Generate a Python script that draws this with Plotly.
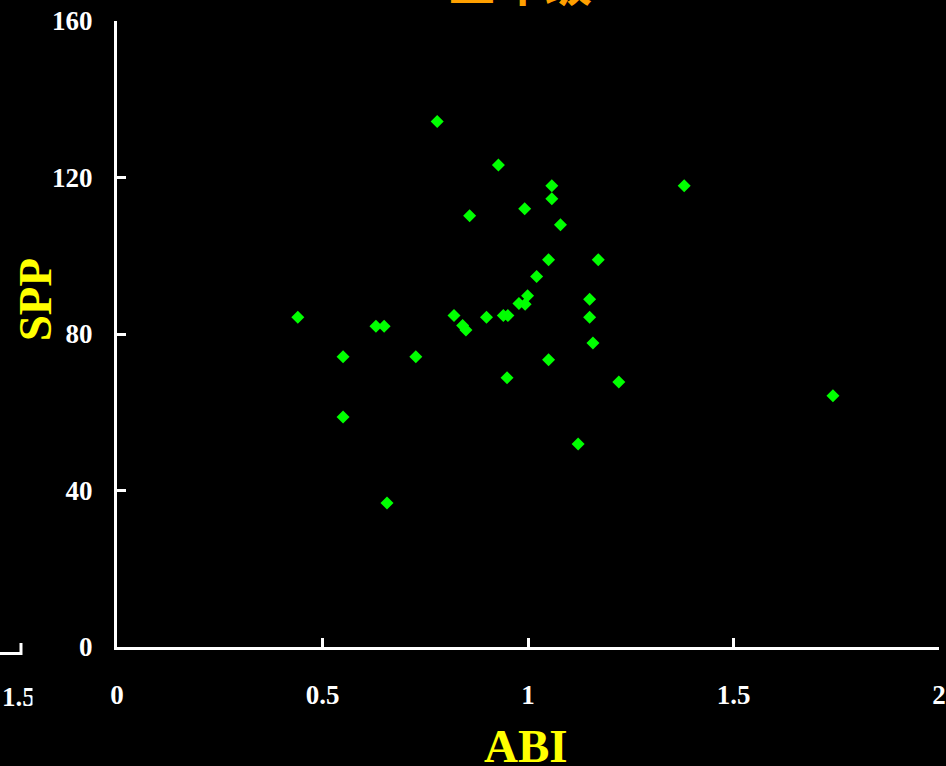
import plotly.graph_objects as go

# Data
abi = [0.440, 0.550, 0.550, 0.630, 0.650, 0.657, 0.727, 0.779, 0.820, 0.841,
       0.849, 0.858, 0.899, 0.928, 0.940, 0.951, 0.949, 0.978, 0.993, 0.999,
       0.992, 1.021, 1.050, 1.050, 1.058, 1.058, 1.079, 1.122, 1.150, 1.150,
       1.158, 1.171, 1.221, 1.380, 1.742]
spp = [84.3, 74.2, 58.8, 82.0, 82.0, 36.8, 74.2, 134.3, 84.7, 82.2,
       81.0, 110.2, 84.3, 123.2, 84.7, 84.7, 68.8, 87.8, 87.6, 89.8,
       112.0, 94.7, 99.0, 73.4, 117.9, 114.6, 107.9, 51.9, 88.9, 84.3,
       77.7, 99.0, 67.7, 117.9, 64.2]

x_ticks = [0, 0.5, 1, 1.5, 2]
x_tick_labels = ["0", "0.5", "1", "1.5", "2"]
y_ticks = [0, 40, 80, 120, 160]
y_tick_labels = ["0", "40", "80", "120", "160"]

title_text = "三年级"
x_title = "ABI"
y_title = "SPP"

serif = "Liberation Serif"
tick_font = dict(family=serif, size=27, color="white", weight="bold")

fig = go.Figure()
fig.add_trace(go.Scatter(
    x=abi, y=spp, mode="markers",
    marker=dict(symbol="diamond", size=10, color="#00FF00", line=dict(width=0)),
    showlegend=False,
))

axis_common = dict(
    showgrid=False, zeroline=False, showline=True, linecolor="white", linewidth=3,
    ticks="inside", ticklen=9, tickwidth=3, tickcolor="white",
    tickfont=tick_font, automargin=False,
)

fig.update_xaxes(range=[0, 2], tickvals=x_ticks, ticktext=x_tick_labels,
                 ticklabelstandoff=22, **axis_common)
fig.update_yaxes(range=[0, 160], tickvals=y_ticks, ticktext=y_tick_labels,
                 ticklabelstandoff=16, **axis_common)

annotations = [
    dict(text="<b>" + x_title + "</b>", xref="paper", yref="paper", x=0.497, y=-0.158,
         xanchor="center", yanchor="middle", showarrow=False,
         font=dict(family=serif, size=47, color="#FFFF00")),
    dict(text="<b>" + y_title + "</b>", xref="paper", yref="paper", x=-0.100, y=0.555,
         xanchor="center", yanchor="middle", showarrow=False, textangle=-90,
         font=dict(family=serif, size=47, color="#FFFF00")),
    dict(text="<b>" + title_text + "</b>", xref="paper", yref="paper", x=0.490, y=1.0056,
         xanchor="center", yanchor="bottom", showarrow=False,
         font=dict(family="Noto Sans CJK SC", size=48, color="#FFA000")),
    # fragment of a neighbouring chart at the far left
    dict(text="<b>1.5</b>", xref="paper", yref="paper", x=-0.1423, y=-0.0799,
         xanchor="left", yanchor="middle", showarrow=False,
         font=dict(family=serif, size=27, color="white")),
    dict(text=" ", xref="paper", yref="paper", x=-0.1035, y=-0.0799,
         xanchor="left", yanchor="middle", showarrow=False, width=30, height=40,
         bgcolor="black", font=dict(size=10, color="black")),
]

shapes = [
    dict(type="line", xref="paper", yref="paper", x0=-0.15, x1=-0.1156,
         y0=-0.0104, y1=-0.0104, line=dict(color="white", width=3)),
    dict(type="line", xref="paper", yref="paper", x0=-0.1168, x1=-0.1168,
         y0=0.0064, y1=-0.0128, line=dict(color="white", width=3)),
]

fig.update_layout(
    width=946, height=766,
    margin=dict(l=117, r=7, t=21, b=119, autoexpand=False),
    paper_bgcolor="black", plot_bgcolor="black",
    annotations=annotations, shapes=shapes,
)

fig.write_html("out.html", config={"displayModeBar": False},
               post_script="document.body.style.margin='0';document.body.style.background='black';")
